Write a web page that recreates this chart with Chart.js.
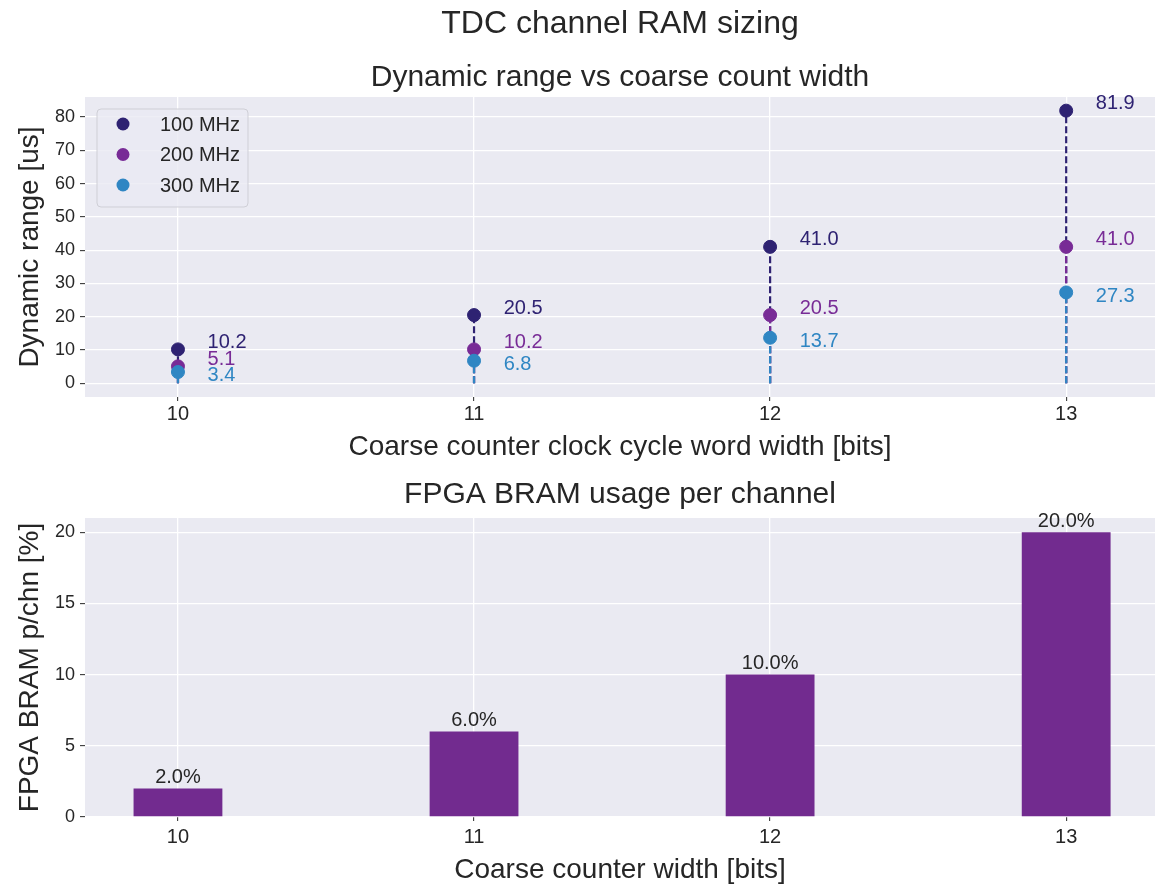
<!DOCTYPE html>
<html lang="en">
<head>
    <meta charset="UTF-8">
    <title>TDC channel RAM sizing</title>
    <script src="https://cdn.jsdelivr.net/npm/chart.js"></script>
    <style>
        html, body {
            margin: 0;
            overflow: hidden;
            background: #ffffff;
            font-family: "Liberation Sans", Arial, sans-serif;
        }
        canvas {
            display: block;
        }
        #topBox {
            position: absolute;
            left: 0;
            top: 0;
            width: 1156px;
            height: 470px;
        }
        #bottomBox {
            position: absolute;
            left: 0;
            top: 470px;
            width: 1156px;
            height: 417px;
        }
    </style>
</head>
<body>
    <div id="topBox"><canvas id="rangeChart"></canvas></div>
    <div id="bottomBox"><canvas id="bramChart"></canvas></div>
    <script>
        // data
        const widths = [10, 11, 12, 13];
        const clockLabels = ['100 MHz', '200 MHz', '300 MHz'];
        const range100 = [10.2, 20.5, 41.0, 81.9];
        const range200 = [5.1, 10.2, 20.5, 41.0];
        const range300 = [3.4, 6.8, 13.7, 27.3];
        const bramUsage = [2.0, 6.0, 10.0, 20.0];
        const rangeTicks = [0, 10, 20, 30, 40, 50, 60, 70, 80];
        const bramTicks = [0, 5, 10, 15, 20];

        const colors = ['#2e2272', '#782b96', '#2f86c3'];
        const labelShift = [2.1, 2.1, -1.1];   // label y offset in data units
        const barColor = '#722b8f';
        const ink = '#262626';
        const bg = '#eaeaf2';
        const FONT = '"Liberation Sans", Arial, sans-serif';

        Chart.defaults.font.family = FONT;
        Chart.defaults.color = ink;
        Chart.defaults.animation = false;

        function stemData(vals) {
            const out = [];
            widths.forEach((w, i) => {
                out.push({x: w, y: 0}, {x: w, y: vals[i]}, {x: w, y: null});
            });
            return out;
        }
        function pointData(vals) {
            return widths.map((w, i) => ({x: w, y: vals[i]}));
        }

        // grey plot background
        const plotBg = {
            id: 'plotBg',
            beforeDraw(chart) {
                const a = chart.chartArea, c = chart.ctx;
                c.save();
                c.fillStyle = bg;
                c.fillRect(a.left, a.top, a.right - a.left, a.bottom - a.top);
                c.restore();
            }
        };

        // value labels next to the markers
        const pointLabels = {
            id: 'pointLabels',
            afterDatasetsDraw(chart) {
                const c = chart.ctx, xs = chart.scales.x, ys = chart.scales.y;
                c.save();
                c.font = '20px ' + FONT;
                c.textAlign = 'left';
                c.textBaseline = 'middle';
                chart.data.datasets.forEach(ds => {
                    if (ds.series === undefined) return;
                    c.fillStyle = colors[ds.series];
                    ds.data.forEach(p => {
                        c.fillText(p.y.toFixed(1),
                            xs.getPixelForValue(p.x + 0.1),
                            ys.getPixelForValue(p.y + labelShift[ds.series]));
                    });
                });
                c.restore();
            }
        };

        // legend box drawn inside the plot area, upper left
        const innerLegend = {
            id: 'innerLegend',
            afterDraw(chart) {
                const c = chart.ctx, a = chart.chartArea;
                const x0 = a.left + 12, y0 = a.top + 12, w = 151, h = 98;
                c.save();
                c.beginPath();
                c.roundRect(x0, y0, w, h, 4);
                c.fillStyle = 'rgba(234,234,242,0.8)';
                c.fill();
                c.strokeStyle = '#cfcfd6';
                c.lineWidth = 1;
                c.stroke();
                c.font = '20px ' + FONT;
                c.textBaseline = 'middle';
                c.textAlign = 'left';
                clockLabels.forEach((lab, i) => {
                    const y = y0 + 15 + i * 30.5;
                    c.beginPath();
                    c.arc(x0 + 26, y, 6.5, 0, Math.PI * 2);
                    c.fillStyle = colors[i];
                    c.fill();
                    c.fillStyle = ink;
                    c.fillText(lab, x0 + 63, y + 1);
                });
                c.restore();
            }
        };

        // percentage labels above bars
        const barLabels = {
            id: 'barLabels',
            afterDatasetsDraw(chart) {
                const c = chart.ctx, meta = chart.getDatasetMeta(0);
                c.save();
                c.font = '20px ' + FONT;
                c.fillStyle = ink;
                c.textAlign = 'center';
                c.textBaseline = 'bottom';
                meta.data.forEach((bar, i) => {
                    c.fillText(bramUsage[i].toFixed(1) + '%', bar.x, bar.y - 1);
                });
                c.restore();
            }
        };

        const stemSets = [range100, range200, range300].map((vals, i) => ({
            label: clockLabels[i] + ' stem',
            data: stemData(vals),
            showLine: true,
            spanGaps: false,
            borderColor: colors[i],
            borderWidth: 2.2,
            borderDash: [7, 3],
            pointRadius: 0,
            order: 3 - i
        }));
        const markerSets = [range100, range200, range300].map((vals, i) => ({
            label: clockLabels[i],
            series: i,
            data: pointData(vals),
            showLine: false,
            backgroundColor: colors[i],
            borderColor: colors[i],
            pointRadius: 6.5,
            pointHoverRadius: 6.5,
            order: -1 - i
        }));

        new Chart(document.getElementById('rangeChart'), {
            type: 'scatter',
            data: {datasets: [...stemSets, ...markerSets]},
            options: {
                responsive: true,
                maintainAspectRatio: false,
                layout: {autoPadding: false, padding: {left: 0, right: 1, top: 0, bottom: 0}},
                plugins: {
                    legend: {display: false},
                    tooltip: {enabled: false},
                    title: {
                        display: true,
                        fullSize: false,
                        text: 'TDC channel RAM sizing',
                        color: ink,
                        font: {size: 32, weight: 'normal', lineHeight: 1.2},
                        padding: {top: 4.8, bottom: 0}
                    },
                    subtitle: {
                        display: true,
                        fullSize: false,
                        text: 'Dynamic range vs coarse count width',
                        color: ink,
                        font: {size: 30, weight: 'normal', lineHeight: 1.2},
                        padding: {top: 16.8, bottom: 1}
                    }
                },
                scales: {
                    x: {
                        type: 'linear',
                        min: 9.686,
                        max: 13.30,
                        afterFit(s) { s.height = 73; },
                        afterBuildTicks(s) { s.ticks = widths.map(v => ({value: v})); },
                        ticks: {font: {size: 20}, padding: 1, color: ink},
                        grid: {color: '#ffffff', lineWidth: 1.3, tickColor: ink, tickLength: 4, tickWidth: 1},
                        border: {display: false},
                        title: {
                            display: true,
                            text: 'Coarse counter clock cycle word width [bits]',
                            color: ink,
                            font: {size: 28, lineHeight: 1.2},
                            padding: {top: 0, bottom: 5.6}
                        }
                    },
                    y: {
                        min: -4.1,
                        max: 86.0,
                        afterFit(s) { s.width = 85; },
                        afterBuildTicks(s) { s.ticks = rangeTicks.map(v => ({value: v})); },
                        ticks: {font: {size: 18}, padding: 5, color: ink},
                        grid: {color: '#ffffff', lineWidth: 1.3, tickColor: ink, tickLength: 5, tickWidth: 1},
                        border: {display: false},
                        title: {
                            display: true,
                            text: 'Dynamic range [us]',
                            color: ink,
                            font: {size: 28, lineHeight: 1.2},
                            padding: {top: 13.2, bottom: 0}
                        }
                    }
                }
            },
            plugins: [plotBg, pointLabels, innerLegend]
        });

        new Chart(document.getElementById('bramChart'), {
            type: 'bar',
            data: {
                datasets: [{
                    label: 'FPGA BRAM usage',
                    data: widths.map((w, i) => ({x: w, y: bramUsage[i]})),
                    backgroundColor: barColor,
                    borderColor: barColor,
                    borderWidth: 0,
                    barPercentage: 0.3,
                    categoryPercentage: 1.0
                }]
            },
            options: {
                responsive: true,
                maintainAspectRatio: false,
                layout: {autoPadding: false, padding: {left: 0, right: 1, top: 0, bottom: 0}},
                plugins: {
                    legend: {display: false},
                    tooltip: {enabled: false},
                    title: {
                        display: true,
                        fullSize: false,
                        text: 'FPGA BRAM usage per channel',
                        color: ink,
                        font: {size: 30, weight: 'normal', lineHeight: 1.2},
                        padding: {top: 7, bottom: 5}
                    }
                },
                scales: {
                    x: {
                        type: 'linear',
                        offset: false,
                        min: 9.686,
                        max: 13.30,
                        afterFit(s) { s.height = 70; },
                        afterBuildTicks(s) { s.ticks = widths.map(v => ({value: v})); },
                        ticks: {font: {size: 20}, padding: 4, color: ink},
                        grid: {offset: false, color: '#ffffff', lineWidth: 1.3, tickColor: ink, tickLength: 4, tickWidth: 1},
                        border: {display: false},
                        title: {
                            display: true,
                            text: 'Coarse counter width [bits]',
                            color: ink,
                            font: {size: 28, lineHeight: 1.2},
                            padding: {top: 0, bottom: 0}
                        }
                    },
                    y: {
                        min: 0,
                        max: 21,
                        afterFit(s) { s.width = 85; },
                        afterBuildTicks(s) { s.ticks = bramTicks.map(v => ({value: v})); },
                        ticks: {font: {size: 18}, padding: 5, color: ink},
                        grid: {color: '#ffffff', lineWidth: 1.3, tickColor: ink, tickLength: 5, tickWidth: 1},
                        border: {display: false},
                        title: {
                            display: true,
                            text: 'FPGA BRAM p/chn [%]',
                            color: ink,
                            font: {size: 28, lineHeight: 1.2},
                            padding: {top: 13.2, bottom: 0}
                        }
                    }
                }
            },
            plugins: [plotBg, barLabels]
        });
    </script>
</body>
</html>
